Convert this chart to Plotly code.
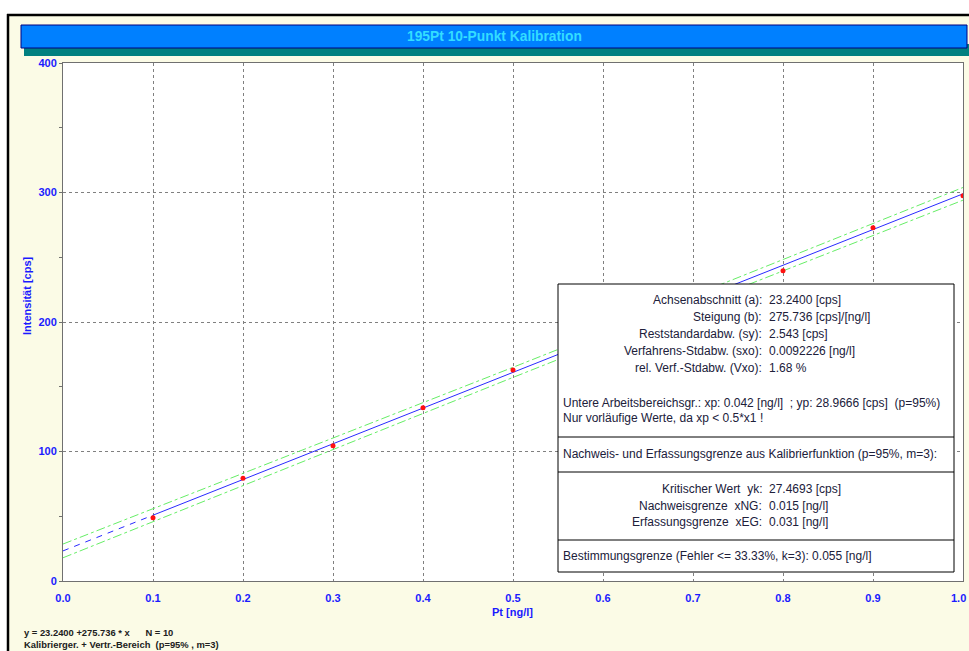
import plotly.graph_objects as go

# ---- data ----
conc = [0.1, 0.2, 0.3, 0.4, 0.5, 0.6, 0.7, 0.8, 0.9, 1.0]
intens = [48.9, 79.3, 104.5, 133.8, 162.9, 189.5, 216.0, 239.6, 272.8, 297.5]
a_int = 23.2400
b_slope = 275.736
band_x = [0.0, 0.1, 0.2, 0.3, 0.4, 0.5, 0.6, 0.7, 0.8, 0.9, 1.0]
band_half = [5.3, 4.9, 4.5, 4.2, 4.0, 3.9, 3.9, 4.0, 4.2, 4.5, 4.9]
x_ticks = [0.0, 0.1, 0.2, 0.3, 0.4, 0.5, 0.6, 0.7, 0.8, 0.9, 1.0]
x_ticklabels = ["0.0", "0.1", "0.2", "0.3", "0.4", "0.5", "0.6", "0.7", "0.8", "0.9", "1.0"]
y_ticks = [0, 100, 200, 300, 400]

title = "195Pt 10-Punkt Kalibration"
stats_labels = ["Achsenabschnitt (a):", "Steigung (b):", "Reststandardabw. (sy):",
                "Verfahrens-Stdabw. (sxo):", "rel. Verf.-Stdabw. (Vxo):"]
stats_values = ["23.2400 [cps]", "275.736 [cps]/[ng/l]", "2.543 [cps]",
                "0.0092226 [ng/l]", "1.68 %"]
lim_labels = ["Kritischer Wert  yk:", "Nachweisgrenze  xNG:", "Erfassungsgrenze  xEG:"]
lim_values = ["27.4693 [cps]", "0.015 [ng/l]", "0.031 [ng/l]"]

W, H = 969, 651
L, R, T, B = 63, 963, 63, 581

def px(x):
    return (x - L) / (R - L)

def py(y):
    return (B - y) / (B - T)

fit = lambda x: a_int + b_slope * x

fig = go.Figure()

band_up = [fit(x) + h for x, h in zip(band_x, band_half)]
band_lo = [fit(x) - h for x, h in zip(band_x, band_half)]
for yy in (band_up, band_lo):
    fig.add_trace(go.Scatter(x=band_x, y=yy, mode="lines",
                             line=dict(color="#66ee66", width=1, dash="dashdot"),
                             hoverinfo="skip", showlegend=False))

fig.add_trace(go.Scatter(x=[0.0, conc[0]], y=[fit(0.0), fit(conc[0])], mode="lines",
                         line=dict(color="#2a2aff", width=1, dash="6px,6px"), showlegend=False))
fig.add_trace(go.Scatter(x=[conc[0], conc[-1]], y=[fit(conc[0]), fit(conc[-1])], mode="lines",
                         line=dict(color="#2a2aff", width=1), showlegend=False))
fig.add_trace(go.Scatter(x=conc, y=intens, mode="markers",
                         marker=dict(color="#ff1010", size=5), showlegend=False))

shapes = []
# white top strip and left strip outside frame
shapes.append(dict(type="rect", xref="paper", yref="paper", x0=px(-5), x1=px(975), y0=py(-5), y1=py(14),
                   fillcolor="white", line=dict(width=0), layer="below"))
shapes.append(dict(type="rect", xref="paper", yref="paper", x0=px(-5), x1=px(7), y0=py(-5), y1=py(660),
                   fillcolor="white", line=dict(width=0), layer="below"))
# black frame lines
shapes.append(dict(type="line", xref="paper", yref="paper", x0=px(7), x1=px(975), y0=py(15), y1=py(15),
                   line=dict(color="black", width=2.5), layer="above"))
shapes.append(dict(type="line", xref="paper", yref="paper", x0=px(8), x1=px(8), y0=py(14), y1=py(660),
                   line=dict(color="black", width=2.5), layer="above"))
# title bar shadow and bar
shapes.append(dict(type="rect", xref="paper", yref="paper", x0=px(24), x1=px(972), y0=py(56), y1=py(44),
                   fillcolor="#008080", line=dict(width=0), layer="above"))
shapes.append(dict(type="rect", xref="paper", yref="paper", x0=px(21), x1=px(967), y0=py(48), y1=py(25),
                   fillcolor="#0080ff", line=dict(color="#000080", width=1), layer="above"))
# info box
shapes.append(dict(type="rect", xref="paper", yref="paper", x0=px(558), x1=px(954), y0=py(572), y1=py(284),
                   fillcolor="white", line=dict(color="black", width=1), layer="above"))
for yl in (437, 472, 540):
    shapes.append(dict(type="line", xref="paper", yref="paper", x0=px(558), x1=px(954), y0=py(yl), y1=py(yl),
                       line=dict(color="black", width=1), layer="above"))

ann = []
def text(x, y, s, xanchor="left", size=12, color="#20203a", family="Liberation Sans", bold=False):
    ann.append(dict(xref="paper", yref="paper", x=px(x), y=py(y), text=s, showarrow=False,
                    xanchor=xanchor, yanchor="middle",
                    font=dict(family=family, size=size, color=color, weight="bold" if bold else "normal")))

text(494, 36, title, xanchor="center", size=13.8, color="#33ddff", bold=True)

row_y = [300, 317, 334, 351, 368]
for yy, lab, val in zip(row_y, stats_labels, stats_values):
    text(764, yy, lab, xanchor="right")
    text(767, yy, val, xanchor="left")
text(561, 403, "Untere Arbeitsbereichsgr.: xp: 0.042 [ng/l]  ; yp: 28.9666 [cps]  (p=95%)")
text(561, 418, "Nur vorläufige Werte, da xp &lt; 0.5*x1 !")
text(561, 454, "Nachweis- und Erfassungsgrenze aus Kalibrierfunktion (p=95%, m=3):")
for yy, lab, val in zip([489, 506, 522], lim_labels, lim_values):
    text(764, yy, lab, xanchor="right")
    text(767, yy, val, xanchor="left")
text(561, 556, "Bestimmungsgrenze (Fehler &lt;= 33.33%, k=3): 0.055 [ng/l]")

text(22, 632, "y = 23.2400 +275.736 * x      N = 10", size=9.4, color="#202020", bold=True)
text(22, 644, "Kalibrierger. + Vertr.-Bereich  (p=95% , m=3)", size=9.4, color="#202020", bold=True)

tickfont = dict(family="Liberation Sans", size=11, color="#1a1aff", weight="bold")
# end tick label placed so it stays inside the page edge
ann.append(dict(xref="paper", yref="paper", x=px(968), y=py(598), text=x_ticklabels[-1], showarrow=False,
                xanchor="right", yanchor="middle", font=tickfont))

text(512, 612, "Pt [ng/l]", xanchor="center", size=11, color="#1a1aff", bold=True)
ann.append(dict(xref="paper", yref="paper", x=px(27), y=py(296), text="Intensität [cps]", showarrow=False,
                textangle=-90, xanchor="center", yanchor="middle",
                font=dict(family="Liberation Sans", size=11, color="#1a1aff", weight="bold")))

fig.update_layout(
    width=W, height=H,
    margin=dict(l=L, r=W - R, t=T, b=H - B),
    paper_bgcolor="#fbfbe6",
    plot_bgcolor="white",
    shapes=shapes,
    annotations=ann,
    showlegend=False,
    xaxis=dict(range=[0, 1.0], tickvals=x_ticks[:-1], ticktext=x_ticklabels[:-1], tickfont=tickfont,
               showgrid=True, gridcolor="#808080", griddash="dot", gridwidth=1,
               showline=True, linecolor="#707070", linewidth=1, mirror=True,
               ticks="", ticklabelstandoff=7, zeroline=False, fixedrange=True),
    yaxis=dict(range=[0, 400], tickvals=y_ticks, tickfont=tickfont,
               showgrid=True, gridcolor="#808080", griddash="dot", gridwidth=1,
               showline=True, linecolor="#707070", linewidth=1, mirror=True,
               ticks="outside", ticklen=3, tickcolor="#707070",
               minor=dict(dtick=50, ticks="outside", ticklen=3, tickcolor="#707070", showgrid=False),
               zeroline=False, fixedrange=True),
)

fig.write_html("out.html", config={"displayModeBar": False},
               post_script="document.body.style.margin='0';document.body.style.padding='0';")
